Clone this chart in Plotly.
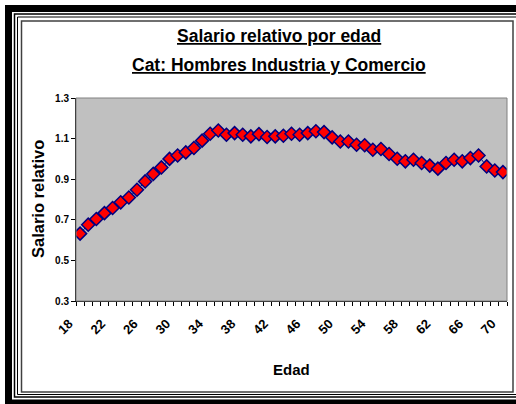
import plotly.graph_objects as go

# Data
ages = list(range(18, 71))
salario = [
    0.632, 0.676, 0.704, 0.733, 0.758, 0.786, 0.810, 0.848, 0.889, 0.926,
    0.958, 1.000, 1.017, 1.032, 1.054, 1.090, 1.124, 1.140, 1.119, 1.127,
    1.119, 1.111, 1.122, 1.108, 1.111, 1.114, 1.124, 1.119, 1.127, 1.136,
    1.132, 1.106, 1.086, 1.086, 1.070, 1.067, 1.045, 1.049, 1.024, 1.001,
    0.988, 0.996, 0.980, 0.967, 0.952, 0.980, 0.996, 0.988, 1.004, 1.017,
    0.963, 0.943, 0.935,
]
x_ticks = list(range(18, 71, 4))
y_ticks = [0.3, 0.5, 0.7, 0.9, 1.1, 1.3]

W, H = 516, 404
L, R, T, B = 76, 507, 98, 301
FONT = "Liberation Sans, Arial, sans-serif"


def px(x):
    return (x - L) / (R - L)


def py(y):
    return (B - y) / (B - T)


fig = go.Figure()
fig.add_trace(
    go.Scatter(
        x=ages,
        y=salario,
        mode="lines+markers",
        line=dict(color="#000080", width=1),
        marker=dict(symbol="diamond", size=10, color="#ff0000",
                    line=dict(color="#000080", width=1.5)),
        hoverinfo="x+y",
    )
)


def frame(x0, y0, x1, y1, color, width):
    fig.add_shape(type="rect", xref="paper", yref="paper",
                  x0=px(x0), x1=px(x1), y0=py(y0), y1=py(y1),
                  line=dict(color=color, width=width), layer="above")


def label(text, x, y, size, angle=0):
    fig.add_annotation(text=text, xref="paper", yref="paper", x=px(x), y=py(y),
                       xanchor="center", yanchor="middle", showarrow=False,
                       textangle=angle, font=dict(size=size, color="#000000"))


# double black frame + inner chart border
frame(8.5, 8.5, 530, 403, "#000000", 7)
frame(14.5, 14, 530, 397, "#000000", 1.5)
frame(17.5, 17, 530, 394.5, "#000000", 1)
frame(21.5, 21, 513, 392, "#404040", 1.5)
# plot area border (top / right gray)
frame(L, T, R, B, "#808080", 1)

label("<b><u>Salario relativo por edad</u></b>", 279, 36, 17.5)
label("<b><u>Cat: Hombres Industria y Comercio</u></b>", 279, 65, 17.5)
label("<b>Salario relativo</b>", 38, 199, 16.5, angle=-90)
label("<b>Edad</b>", 291, 369, 15)

fig.update_layout(
    width=W, height=H,
    margin=dict(l=L, r=W - R, t=T, b=H - B),
    paper_bgcolor="#ffffff",
    plot_bgcolor="#c0c0c0",
    font=dict(family=FONT, color="#000000"),
    showlegend=False,
    xaxis=dict(
        range=[17.5, 70.5], tickvals=x_ticks, ticktext=[str(a) for a in x_ticks],
        tickangle=-45, ticks="", showgrid=False, zeroline=False,
        showline=True, linecolor="#000000", linewidth=1,
        tickfont=dict(size=13, weight="bold"),
        ticklabelstandoff=9, ticklabelshift=-11,
        minor=dict(tick0=17.5, dtick=1, ticks="outside", ticklen=4, tickcolor="#000000",
                   showgrid=False),
    ),
    yaxis=dict(
        range=[0.3, 1.3], tickvals=y_ticks, ticktext=[f"{v:.1f}" for v in y_ticks],
        ticks="outside", ticklen=4, tickcolor="#000000", showgrid=False, zeroline=False,
        showline=True, linecolor="#000000", linewidth=1,
        tickfont=dict(size=10, weight="bold"),
    ),
)

fig.write_html("out.html", config={"displayModeBar": False},
               post_script="document.body.style.margin='0';")
